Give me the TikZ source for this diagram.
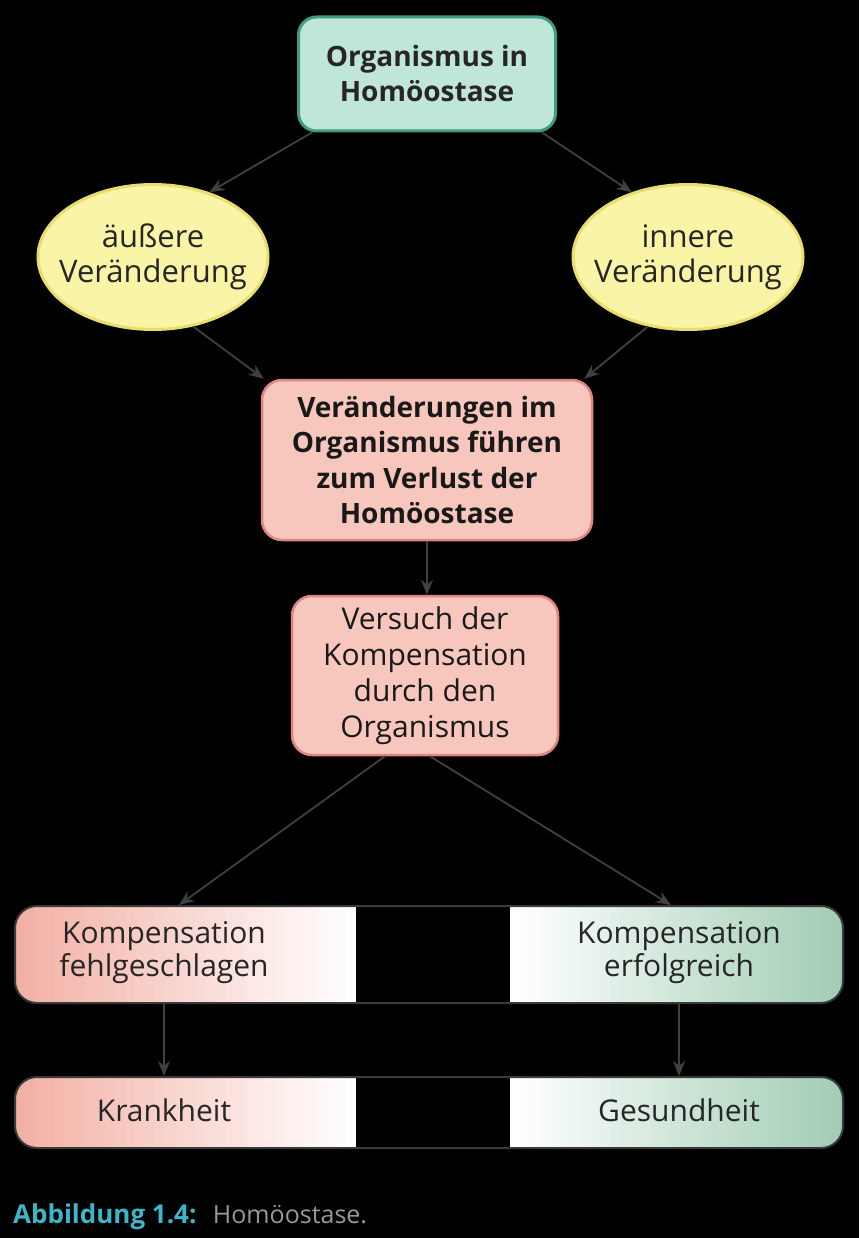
\documentclass[tikz,border=0pt]{standalone}
\usepackage{fontspec}
\setmainfont{Open Sans}
\usetikzlibrary{shapes.geometric,arrows.meta}
\definecolor{tealfill}{HTML}{C0E6D8}
\definecolor{tealline}{HTML}{3F9C85}
\definecolor{yellowfill}{HTML}{FAF4A6}
\definecolor{yellowline}{HTML}{E9DD6E}
\definecolor{pinkfill}{HTML}{F7C6BC}
\definecolor{pinkline}{HTML}{E08583}
\definecolor{pinkbar}{HTML}{F3B0A5}
\definecolor{greenbar}{HTML}{9FCBB2}
\definecolor{bargray}{HTML}{3A3A3A}
\definecolor{arrgray}{HTML}{404040}
\definecolor{capcyan}{HTML}{3CB6C8}
\tikzset{
	base/.style={align=center, inner sep=0pt, font=\fontsize{30}{35}\selectfont},
	startbox/.style={base, rectangle, rounded corners=18pt, draw=tealline, line width=3pt,
		fill=tealfill, text=black!85, minimum width=257pt, minimum height=114pt,
		font=\bfseries\fontsize{28}{35}\selectfont},
	change/.style={base, ellipse, draw=yellowline, line width=3pt, fill=yellowfill,
		text=black!85, inner xsep=-25pt, minimum width=230pt, minimum height=145pt,
		font=\fontsize{31}{35}\selectfont},
	lossbox/.style={base, rectangle, rounded corners=20pt, draw=pinkline, line width=2.5pt,
		fill=pinkfill, text=black!90},
	bar/.style={rectangle, rounded corners=22pt, draw=bargray, line width=2pt, fill=black,
		minimum width=828pt,
		path picture={
			\foreach \i [evaluate=\i as \p using {int(100-3*\i)}] in {0,...,33}
				\fill[sharp corners, pinkbar!\p!white]
					([xshift=\i*10pt]path picture bounding box.south west) rectangle
					([xshift=\i*10pt+10.6pt]path picture bounding box.north west);
			\foreach \i [evaluate=\i as \p using {int(3*\i)}] in {0,...,33}
				\fill[sharp corners, greenbar!\p!white]
					([xshift=-333pt+\i*10pt]path picture bounding box.south east) rectangle
					([xshift=-333pt+\i*10pt+10.6pt]path picture bounding box.north east);
		}},
	bartext/.style={base, text=black!85, font=\fontsize{30}{33}\selectfont},
	arr/.style={-{Stealth[length=15pt,width=12pt]}, draw=arrgray, line width=1.8pt},
}
\begin{document}
\begin{tikzpicture}[x=1pt,y=-1pt]
	\fill[black] (0,0) rectangle (859,1238);
	\useasboundingbox (0,0) rectangle (859,1238);

	% top and the two kinds of change
	\node[startbox] (home) at (427,74) {Organismus in\\Homöostase};
	\node[change] (outer) at (153,257) {äußere\\Veränderung};
	\node[change] (inner) at (688,257) {innere\\Veränderung};

	% loss and compensation
	\node[lossbox, minimum width=330pt, minimum height=160pt,
		font=\bfseries\fontsize{28}{35.5}\selectfont] (loss) at (427,460)
		{Veränderungen im\\Organismus führen\\zum Verlust der\\Homöostase};
	\node[lossbox, minimum width=266pt, minimum height=159pt,
		font=\fontsize{30}{36}\selectfont] (try) at (425,675.5)
		{Versuch der\\Kompensation\\durch den\\Organismus};

	% result bars
	\node[bar, minimum height=97pt] (comp) at (429,954.5) {};
	\node[bar, minimum height=71pt] (result) at (429,1112.5) {};
	\node[bartext] (failed) at (164,953) {Kompensation\\fehlgeschlagen};
	\node[bartext] (success) at (679,953) {Kompensation\\erfolgreich};
	\node[bartext] (ill) at (164,1110) {Krankheit};
	\node[bartext] (healthy) at (679,1110) {Gesundheit};

	% connectors
	\draw[arr] ([xshift=15pt]home.south west) -- (outer.49);
	\draw[arr] ([xshift=-15pt]home.south east) -- (inner.131);
	\draw[arr] (outer.-60) -- ([xshift=3pt]loss.north west);
	\draw[arr] (inner.-120) -- ([xshift=-9pt]loss.north east);
	\draw[arr] (loss.south) -- (loss.south |- try.north);
	\draw[arr] ([xshift=-40pt]try.south) -- ([xshift=165pt]comp.north west);
	\draw[arr] ([xshift=5pt]try.south) -- ([xshift=-173pt]comp.north east);
	\draw[arr] (failed |- comp.south) -- (failed |- result.north);
	\draw[arr] (success |- comp.south) -- (success |- result.north);

	% caption
	\node[anchor=base west, inner sep=0pt, text=capcyan, font=\bfseries\fontsize{26}{28}\selectfont]
		(cap) at (13,1223) {Abbildung 1.4:};
	\node[anchor=base west, inner sep=0pt, text=black!40, font=\fontsize{25}{28}\selectfont]
		(captext) at ([xshift=16pt]cap.base east) {Homöostase.};
\end{tikzpicture}
\end{document}
